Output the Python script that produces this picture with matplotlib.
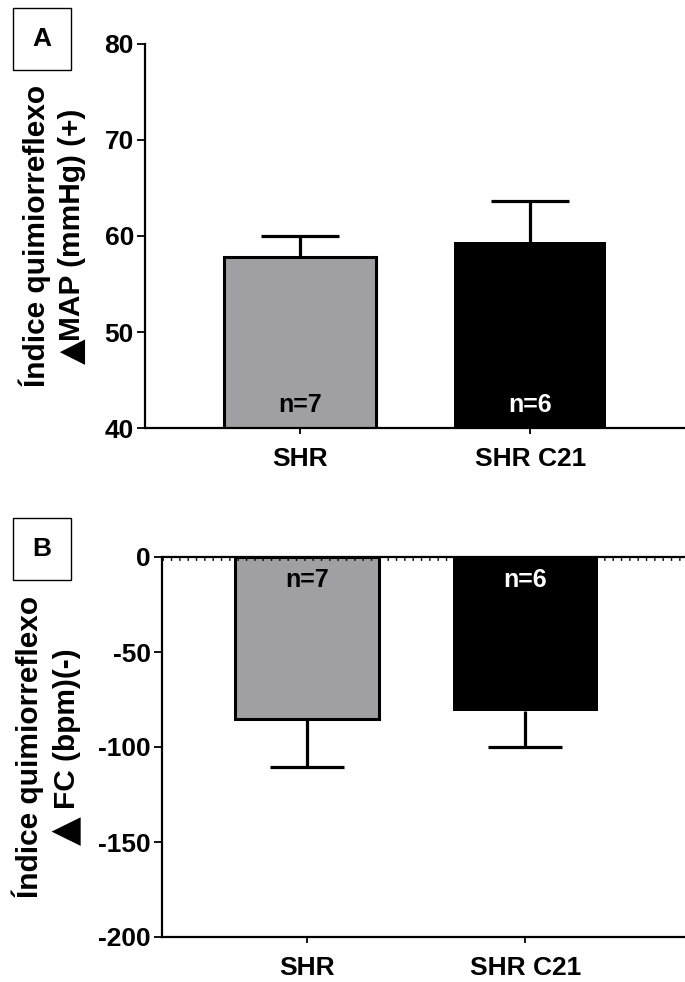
import matplotlib
matplotlib.use("Agg")
import matplotlib.pyplot as plt
from matplotlib.patches import Rectangle
import numpy as np

plt.rcParams['font.family'] = ['Liberation Sans', 'DejaVu Sans']
plt.rcParams['font.weight'] = 'bold'
plt.rcParams['axes.unicode_minus'] = False

categories = ["SHR", "SHR C21"]
map_mean = [57.8, 59.4]
map_sem = [2.2, 4.2]
fc_mean = [-85.3, -81.0]
fc_sem = [25.2, 18.8]
n_labels = ["n=7", "n=6"]
colors = ["#a09fa4", "#000000"]
map_ticks = [40, 50, 60, 70, 80]
fc_ticks = [-200, -150, -100, -50, 0]

W, H = 685, 982
fig = plt.figure(figsize=(W / 100, H / 100), dpi=100)
axA = fig.add_axes([145 / W, 1 - 428 / H, 1 - 145 / W, 384 / H])
axB = fig.add_axes([162 / W, 1 - 937 / H, 1 - 162 / W, 380 / H])

x = np.arange(len(categories))
TICK_FS = 19
N_FS = 18
LAB_FS = 21.5


def style(ax):
    for s in ['top', 'right']:
        ax.spines[s].set_visible(False)
    for s in ['left', 'bottom']:
        ax.spines[s].set_linewidth(1.6)
    ax.tick_params(axis='both', width=1.3, length=6, labelsize=TICK_FS, pad=2)
    ax.tick_params(axis='x', length=4, pad=10)
    for lbl in ax.get_xticklabels() + ax.get_yticklabels():
        lbl.set_fontweight('bold')


def errs(ax, mean, sem, sign, capsize):
    mean = np.asarray(mean)
    sem = np.asarray(sem)
    zeros = np.zeros_like(sem)
    yerr = [zeros, sem] if sign > 0 else [sem, zeros]
    ax.errorbar(x, mean, yerr=yerr, fmt='none', ecolor='black',
                elinewidth=2.3, capsize=0, zorder=1)
    ax.plot(x, mean + sign * sem, ls='none', marker='_', ms=capsize,
            mew=2.3, color='black', zorder=1)


# Panel A
axA.bar(x, map_mean, width=0.66, color=colors, edgecolor='black',
        linewidth=[2.2, 0], zorder=2)
errs(axA, map_mean, map_sem, +1, 56)
axA.set_ylim(40, 80)
axA.set_xlim(-0.672, 1.672)
axA.set_yticks(map_ticks)
axA.set_xticks(x)
axA.set_xticklabels(categories)
for xi, t, c in zip(x, n_labels, ['black', 'white']):
    axA.text(xi, 42.4, t, ha='center', va='center', fontsize=N_FS,
             fontweight='bold', color=c, zorder=3)
style(axA)

# Panel B
axB.bar(x, fc_mean, width=0.66, color=colors, edgecolor='black',
        linewidth=[2.2, 0], zorder=2)
errs(axB, fc_mean, fc_sem, -1, 53)
axB.set_ylim(-200, 0)
axB.set_xlim(-0.662, 1.73)
axB.set_yticks(fc_ticks)
axB.set_xticks(x)
axB.set_xticklabels(categories)
axB.axhline(0, color='black', lw=1.6, zorder=4, clip_on=False)
axB.axhline(-0.8, color='black', lw=2.0, ls=(0, (0.5, 2.5)), zorder=4, clip_on=False)
for xi, t, c in zip(x, n_labels, ['black', 'white']):
    axB.text(xi, -12, t, ha='center', va='center', fontsize=N_FS,
             fontweight='bold', color=c, zorder=3)
style(axB)

# Y labels (two lines, big triangle glyph)
fig.canvas.draw()
renderer = fig.canvas.get_renderer()


def ylabel(line1, line2, ax, x1, x2, tri_fs, gap):
    bb = ax.get_position()
    yc = (bb.y0 + bb.y1) / 2
    fig.text(x1 / W, yc, line1, rotation=90, ha='center', va='center',
             fontsize=LAB_FS, fontweight='bold')
    t2 = fig.text(x2 / W, yc, line2, rotation=90, ha='center', va='center',
                  fontsize=LAB_FS, fontweight='bold')
    tri = fig.text(x2 / W, yc, "▲", rotation=90, ha='center', va='center',
                   fontsize=tri_fs, family='DejaVu Sans')
    h2 = t2.get_window_extent(renderer).height
    th = tri.get_window_extent(renderer).height
    total = h2 + th + gap
    top = yc * H + total / 2
    t2.set_y((top - h2 / 2) / H)
    tri.set_y((top - h2 - gap - th / 2) / H)


ylabel("Índice quimiorreflexo", "MAP (mmHg) (+)", axA, 35, 72, 24, -3)
ylabel("Índice quimiorreflexo", "FC (bpm)(-)", axB, 28, 67, 27, 7)

# Panel letters
for label, ytop in [("A", 8), ("B", 518)]:
    fig.patches.append(Rectangle((13 / W, 1 - (ytop + 62) / H), 58 / W, 62 / H,
                                 transform=fig.transFigure, fill=False,
                                 edgecolor='black', lw=1.0))
    fig.text((13 + 29) / W, 1 - (ytop + 31) / H, label, ha='center',
             va='center', fontsize=19, fontweight='bold')

fig.savefig("out.png", dpi=100)
